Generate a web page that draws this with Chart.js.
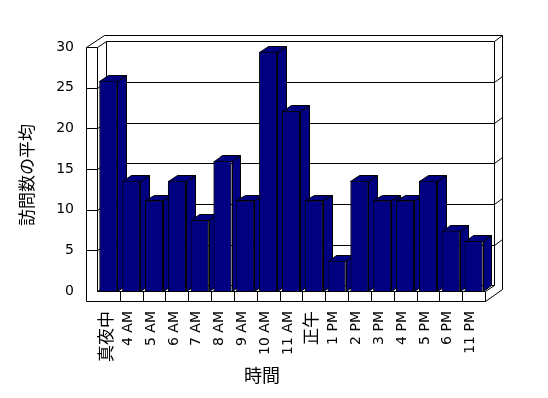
<!DOCTYPE html>
<html>
<head>
<meta charset="utf-8">
<script src="https://cdn.jsdelivr.net/npm/chart.js@4.4.1/dist/chart.umd.min.js"></script>
<style>
    html, body { margin: 0; padding: 0; background: #fff; }
    #wrap { width: 548px; height: 398px; }
</style>
</head>
<body>
<div id="wrap"><canvas id="chartVisits"></canvas></div>
<script>
const hours = ['真夜中', '4 AM', '5 AM', '6 AM', '7 AM', '8 AM', '9 AM', '10 AM', '11 AM',
    '正午', '1 PM', '2 PM', '3 PM', '4 PM', '5 PM', '6 PM', '11 PM'];
const avgVisits = [25.86, 13.57, 11.14, 13.57, 8.71, 16.0, 11.14, 29.43, 22.14,
    11.14, 3.71, 13.57, 11.14, 11.14, 13.57, 7.43, 6.14];
const yTicks = [0, 5, 10, 15, 20, 25, 30];
const yTitle = '訪問数の平均';
const xTitle = '時間';

// look "Excel 3D"
const BAR = '#000080';
const DX = 8.7, DY = -5.8;   // profondeur
const WALL = 10.6;           // épaisseur du mur gauche
const FLOOR = 9.7;           // épaisseur du sol

Chart.defaults.font.family = "'DejaVu Sans', sans-serif";
Chart.defaults.color = '#000';

const px = v => Math.round(v) + 0.5;

function seg(ctx, x1, y1, x2, y2) {
    ctx.beginPath();
    ctx.moveTo(px(x1), px(y1));
    ctx.lineTo(px(x2), px(y2));
    ctx.stroke();
}

function poly(ctx, pts, fill) {
    ctx.beginPath();
    pts.forEach(([x, y], i) => i ? ctx.lineTo(px(x), px(y)) : ctx.moveTo(px(x), px(y)));
    ctx.closePath();
    if (fill) { ctx.fillStyle = fill; ctx.fill(); }
    ctx.stroke();
}

const box3d = {
    id: 'box3d',
    beforeDatasetsDraw(chart) {
        const { ctx, chartArea: a, scales: { y } } = chart;
        const L = a.left, R = a.right;
        const B = y.getPixelForValue(0), T = y.getPixelForValue(30);
        ctx.save();
        ctx.strokeStyle = '#000';
        ctx.lineWidth = 1;

        // quadrillage : mur gauche, mur du fond, tranche droite
        yTicks.forEach(v => {
            if (v === 0 || v === 30) return;
            const yf = y.getPixelForValue(v);
            seg(ctx, L, yf, L + DX, yf + DY);
            seg(ctx, L + DX, yf + DY, R + DX, yf + DY);
            seg(ctx, R + DX, yf + DY, R + 2 * DX, yf + 2 * DY);
        });

        // contour extérieur du haut et de la droite
        seg(ctx, L - WALL, T, L - WALL + 2 * DX, T + 2 * DY);
        seg(ctx, L - WALL + 2 * DX, T + 2 * DY, R + 2 * DX, T + 2 * DY);
        seg(ctx, R + 2 * DX, T + 2 * DY, R + 2 * DX, B + FLOOR + 2 * DY);

        // arêtes intérieures
        seg(ctx, L, T, L + DX, T + DY);
        seg(ctx, L + DX, T + DY, R + DX, T + DY);
        seg(ctx, R + DX, T + DY, R + 2 * DX, T + 2 * DY);
        seg(ctx, R + DX, T + DY, R + DX, B + DY);
        seg(ctx, L + DX, T + DY, L + DX, B + DY);
        seg(ctx, L + DX, B + DY, R + DX, B + DY);
        seg(ctx, L, B, L + DX, B + DY);
        seg(ctx, R, B, R + DX, B + DY);
        ctx.restore();
    },
    afterDatasetsDraw(chart) {
        const { ctx, chartArea: a, scales: { x, y } } = chart;
        const L = a.left, R = a.right;
        const B = y.getPixelForValue(0), T = y.getPixelForValue(30);
        ctx.save();
        ctx.strokeStyle = '#000';
        ctx.lineWidth = 1;

        // barres de gauche à droite : côté, dessus, puis la face avant
        chart.getDatasetMeta(0).data.forEach(bar => {
            const { x: cx, y: top, base, width } = bar.getProps(['x', 'y', 'base', 'width'], true);
            const l = cx - width / 2, r = cx + width / 2;
            poly(ctx, [[r, top], [r + DX, top + DY], [r + DX, base + DY], [r, base]], BAR);
            poly(ctx, [[l, top], [l + DX, top + DY], [r + DX, top + DY], [r, top]], BAR);
            bar.draw(ctx, a);
        });

        ctx.strokeStyle = '#000';
        ctx.lineWidth = 1;

        // tranche avant du mur gauche
        seg(ctx, L - WALL, T, L, T);
        seg(ctx, L - WALL, T, L - WALL, B + FLOOR);
        seg(ctx, L, T, L, B);
        yTicks.forEach(v => {
            if (v === 0 || v === 30) return;
            const yf = y.getPixelForValue(v);
            seg(ctx, L - WALL, yf, L, yf);
        });

        // tranche avant du sol
        seg(ctx, L, B, R, B);
        seg(ctx, L - WALL, B + FLOOR, R, B + FLOOR);
        seg(ctx, R, B, R, B + FLOOR);
        seg(ctx, R, B + FLOOR, R + 2 * DX, B + FLOOR + 2 * DY);
        for (let i = 0; i < hours.length - 1; i++) {
            const bx = (x.getPixelForValue(i) + x.getPixelForValue(i + 1)) / 2;
            seg(ctx, bx, B, bx, B + FLOOR);
        }

        // titres des axes
        ctx.fillStyle = '#000';
        ctx.textAlign = 'center';
        ctx.textBaseline = 'middle';
        ctx.font = "18px 'Noto Sans CJK JP'";
        ctx.fillText(xTitle, 262, 375);
        ctx.translate(27, 175);
        ctx.rotate(-Math.PI / 2);
        ctx.font = "17px 'Noto Sans CJK JP'";
        ctx.fillText(yTitle, 0, 0);
        ctx.restore();
    }
};

const ctxVisits = document.getElementById('chartVisits').getContext('2d');
const visitsChart = new Chart(ctxVisits, {
    type: 'bar',
    data: {
        labels: hours,
        datasets: [{
            label: yTitle,
            data: avgVisits,
            backgroundColor: BAR,
            borderColor: '#000',
            borderWidth: 1,
            barPercentage: 0.79,
            categoryPercentage: 1.0
        }]
    },
    options: {
        responsive: true,
        maintainAspectRatio: false,
        animation: false,
        events: [],
        layout: {
            padding: { top: 47, right: 63, bottom: 0, left: 0 }
        },
        plugins: {
            legend: { display: false },
            tooltip: { enabled: false }
        },
        scales: {
            x: {
                grid: { display: false, drawTicks: false },
                border: { display: false },
                ticks: {
                    autoSkip: false,
                    minRotation: 90,
                    maxRotation: 90,
                    padding: 20,
                    labelOffset: -3,
                    font: (c) => /[^\x00-\x7F]/.test(hours[c.index] || '')
                        ? { family: "'Noto Sans CJK JP'", size: 17 }
                        : { family: "'DejaVu Sans'", size: 14 }
                },
                afterFit: (scale) => { scale.height = 107; }
            },
            y: {
                min: 0,
                max: 30,
                grid: { display: false, drawTicks: false },
                border: { display: false },
                ticks: {
                    stepSize: 5,
                    padding: 23,
                    font: { size: 14 }
                },
                afterFit: (scale) => { scale.width = 97; }
            }
        }
    },
    plugins: [box3d]
});
</script>
</body>
</html>
